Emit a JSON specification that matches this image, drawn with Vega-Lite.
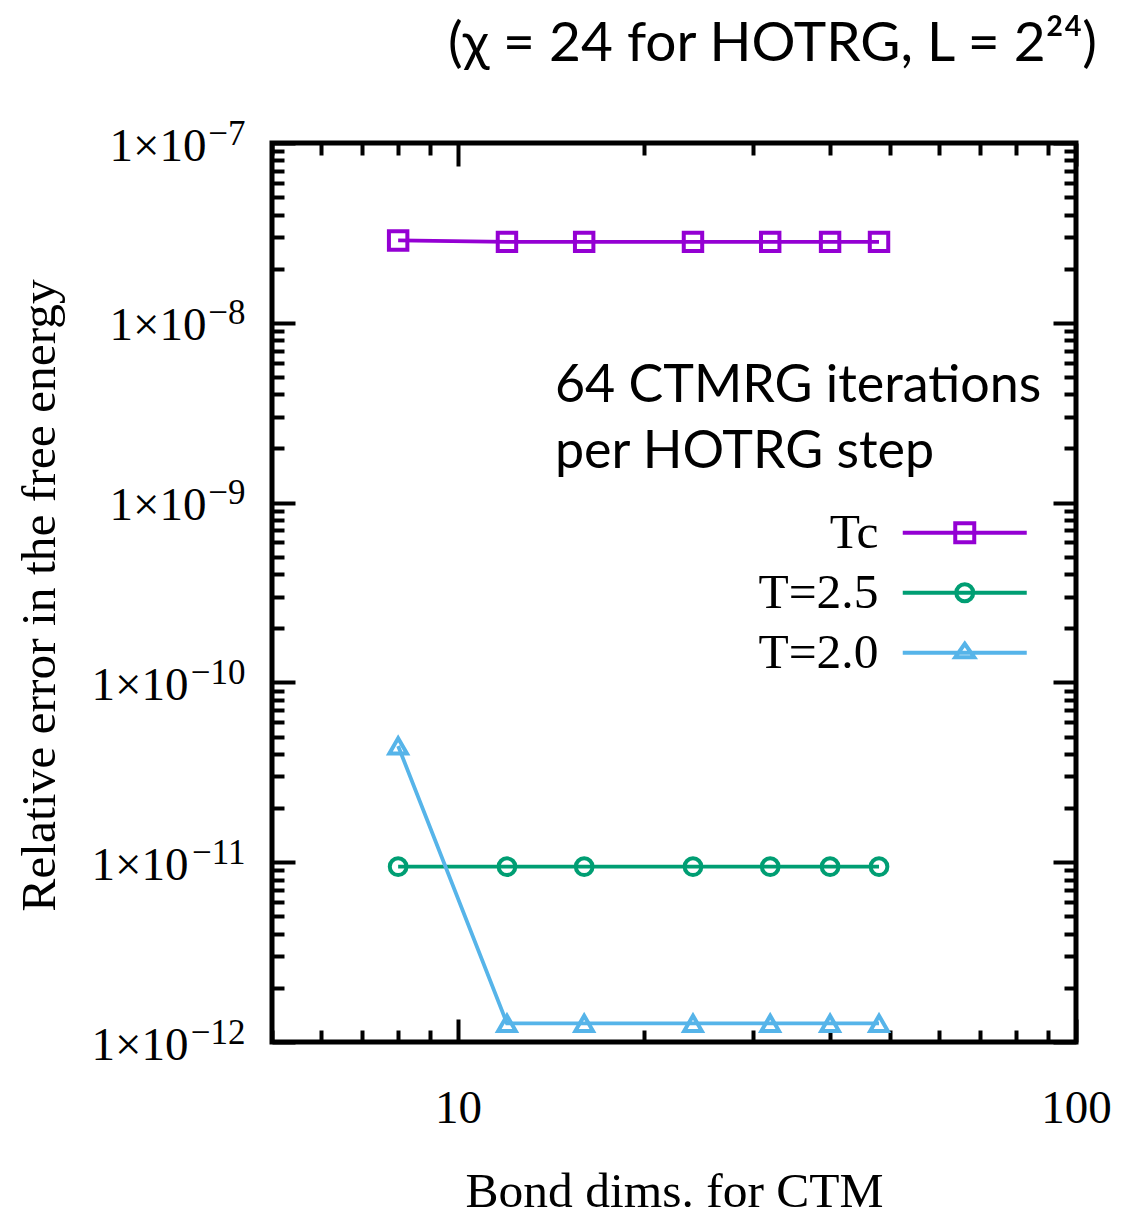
{
  "$schema": "https://vega.github.io/schema/vega-lite/v6.json",
  "width": 804,
  "height": 899,
  "autosize": {"type": "none"},
  "padding": {"left": 272, "top": 143, "right": 46, "bottom": 173},
  "background": "white",
  "title": {
    "text": "(χ = 24 for HOTRG, L = 2²⁴)",
    "anchor": "end",
    "frame": "group",
    "dx": 21,
    "offset": 0,
    "baseline": "alphabetic",
    "font": "Lato",
    "fontSize": 55,
    "fontWeight": "normal",
    "color": "black"
  },
  "data": {
    "values": [
      {"D": 8, "err": 2.87e-8, "series": "Tc"},
      {"D": 12, "err": 2.82e-8, "series": "Tc"},
      {"D": 16, "err": 2.82e-8, "series": "Tc"},
      {"D": 24, "err": 2.82e-8, "series": "Tc"},
      {"D": 32, "err": 2.82e-8, "series": "Tc"},
      {"D": 40, "err": 2.82e-8, "series": "Tc"},
      {"D": 48, "err": 2.82e-8, "series": "Tc"},
      {"D": 8, "err": 9.44e-12, "series": "T=2.5"},
      {"D": 12, "err": 9.44e-12, "series": "T=2.5"},
      {"D": 16, "err": 9.44e-12, "series": "T=2.5"},
      {"D": 24, "err": 9.44e-12, "series": "T=2.5"},
      {"D": 32, "err": 9.44e-12, "series": "T=2.5"},
      {"D": 40, "err": 9.44e-12, "series": "T=2.5"},
      {"D": 48, "err": 9.44e-12, "series": "T=2.5"},
      {"D": 8, "err": 4.43e-11, "series": "T=2.0"},
      {"D": 12, "err": 1.27e-12, "series": "T=2.0"},
      {"D": 16, "err": 1.27e-12, "series": "T=2.0"},
      {"D": 24, "err": 1.27e-12, "series": "T=2.0"},
      {"D": 32, "err": 1.27e-12, "series": "T=2.0"},
      {"D": 40, "err": 1.27e-12, "series": "T=2.0"},
      {"D": 48, "err": 1.27e-12, "series": "T=2.0"}
    ]
  },
  "resolve": {"axis": {"x": "independent", "y": "independent"}},
  "layer": [
    {
      "mark": {"type": "line", "strokeWidth": 3.8},
      "encoding": {
        "x": {
          "field": "D",
          "type": "quantitative",
          "scale": {"type": "log", "domain": [5, 100], "nice": false},
          "axis": {
            "orient": "bottom",
            "title": "Bond dims. for CTM",
            "values": [10, 100],
            "tickSize": -23,
            "labelBaseline": "alphabetic",
            "labelFontSize": 47,
            "labelPadding": 103,
            "titleBaseline": "alphabetic",
            "titleY": 164,
            "titleX": 402
          }
        },
        "y": {
          "field": "err",
          "type": "quantitative",
          "scale": {"type": "log", "domain": [1e-12, 1e-7], "nice": false},
          "axis": {
            "orient": "left",
            "title": "Relative error in the free energy",
            "values": [1e-9, 1e-8, 1e-7],
            "tickSize": -23,
            "labelExpr": "'1×10'",
            "labelBaseline": "middle",
            "labelFontSize": 47,
            "labelPadding": 89,
            "labelOffset": 3,
            "titleAngle": -90,
            "titleBaseline": "alphabetic",
            "titleX": -218,
            "titleY": 452
          }
        },
        "color": {
          "field": "series",
          "type": "nominal",
          "scale": {"domain": ["Tc", "T=2.5", "T=2.0"], "range": ["#9400D3", "#009E73", "#56B4E9"]},
          "legend": {
            "title": null,
            "orient": "none",
            "legendX": 668,
            "legendY": 365,
            "padding": 0,
            "rowPadding": 9,
            "symbolSize": 961,
            "symbolStrokeWidth": 4,
            "symbolOpacity": 1,
            "symbolFillColor": "transparent",
            "labelFont": "Liberation Serif",
            "labelFontSize": 49.5,
            "labelColor": "black",
            "labelAlign": "right",
            "labelOffset": -111
          }
        },
        "order": {"field": "D", "type": "quantitative"}
      }
    },
    {
      "transform": [{"filter": "datum.series === 'Tc'"}],
      "mark": {"type": "point", "shape": "square", "filled": false, "size": 340, "strokeWidth": 4, "opacity": 1},
      "encoding": {
        "x": {
          "field": "D",
          "type": "quantitative",
          "axis": {"orient": "top", "title": null, "labels": false, "values": [10, 100], "tickSize": -23}
        },
        "y": {
          "field": "err",
          "type": "quantitative",
          "axis": {"orient": "right", "title": null, "labels": false, "values": [1e-12, 1e-11, 1e-10, 1e-9, 1e-8, 1e-7], "tickSize": -23}
        },
        "color": {"field": "series", "type": "nominal"}
      }
    },
    {
      "transform": [{"filter": "datum.series === 'T=2.5'"}],
      "mark": {"type": "point", "shape": "circle", "filled": false, "size": 280, "strokeWidth": 4, "opacity": 1},
      "encoding": {
        "x": {
          "field": "D",
          "type": "quantitative",
          "axis": {"orient": "bottom", "title": null, "labels": false, "values": [5, 6, 7, 8, 9, 20, 30, 40, 50, 60, 70, 80, 90], "tickSize": -12}
        },
        "y": {
          "field": "err",
          "type": "quantitative",
          "axis": {
            "orient": "left",
            "title": null,
            "labels": false,
            "tickSize": -12,
            "values": [2e-12, 3e-12, 4e-12, 5e-12, 6e-12, 7e-12, 8e-12, 9e-12, 2e-11, 3e-11, 4e-11, 5e-11, 6e-11, 7e-11, 8e-11, 9e-11, 2e-10, 3e-10, 4e-10, 5e-10, 6e-10, 7e-10, 8e-10, 9e-10, 2e-9, 3e-9, 4e-9, 5e-9, 6e-9, 7e-9, 8e-9, 9e-9, 2e-8, 3e-8, 4e-8, 5e-8, 6e-8, 7e-8, 8e-8, 9e-8]
          }
        },
        "color": {"field": "series", "type": "nominal"}
      }
    },
    {
      "transform": [{"filter": "datum.series === 'T=2.0'"}],
      "mark": {"type": "point", "shape": "triangle-up", "filled": false, "size": 310, "strokeWidth": 4, "opacity": 1},
      "encoding": {
        "x": {
          "field": "D",
          "type": "quantitative",
          "axis": {"orient": "top", "title": null, "labels": false, "values": [5, 6, 7, 8, 9, 20, 30, 40, 50, 60, 70, 80, 90], "tickSize": -12}
        },
        "y": {
          "field": "err",
          "type": "quantitative",
          "axis": {
            "orient": "right",
            "title": null,
            "labels": false,
            "tickSize": -12,
            "values": [2e-12, 3e-12, 4e-12, 5e-12, 6e-12, 7e-12, 8e-12, 9e-12, 2e-11, 3e-11, 4e-11, 5e-11, 6e-11, 7e-11, 8e-11, 9e-11, 2e-10, 3e-10, 4e-10, 5e-10, 6e-10, 7e-10, 8e-10, 9e-10, 2e-9, 3e-9, 4e-9, 5e-9, 6e-9, 7e-9, 8e-9, 9e-9, 2e-8, 3e-8, 4e-8, 5e-8, 6e-8, 7e-8, 8e-8, 9e-8]
          }
        },
        "color": {"field": "series", "type": "nominal"}
      }
    },
    {
      "mark": {"type": "point", "filled": false, "opacity": 0},
      "encoding": {
        "x": {"field": "D", "type": "quantitative", "axis": null},
        "y": {
          "field": "err",
          "type": "quantitative",
          "axis": {
            "orient": "left",
            "title": null,
            "ticks": false,
            "tickSize": 0,
            "values": [1e-12, 1e-11, 1e-10, 1e-9, 1e-8, 1e-7],
            "labelExpr": "'−' + (-round(log(datum.value)/LN10))",
            "labelBaseline": "middle",
            "labelFontSize": 35,
            "labelPadding": 27,
            "labelOffset": -10
          }
        },
        "color": {"field": "series", "type": "nominal"},
        "shape": {
          "field": "series",
          "type": "nominal",
          "scale": {
            "domain": ["Tc", "T=2.5", "T=2.0"],
            "range": [
              "M-4,0H4M-0.613,-0.613H0.613V0.613H-0.613Z",
              "M-4,0H4M0.55,0A0.55,0.55 0 1,1 -0.55,0A0.55,0.55 0 1,1 0.55,0",
              "M-4,0H4M0,-0.58L0.61,0.29H-0.61Z"
            ]
          },
          "legend": {
            "title": null,
            "orient": "none",
            "legendX": 668,
            "legendY": 365,
            "padding": 0,
            "rowPadding": 9,
            "symbolSize": 961,
            "symbolStrokeWidth": 4,
            "symbolOpacity": 1,
            "symbolFillColor": "transparent",
            "labelFont": "Liberation Serif",
            "labelFontSize": 49.5,
            "labelColor": "black",
            "labelAlign": "right",
            "labelOffset": -111
          }
        }
      }
    },
    {
      "data": {"values": [{"note": "64 CTMRG iterations\nper HOTRG step"}]},
      "mark": {
        "type": "text",
        "align": "left",
        "baseline": "alphabetic",
        "lineBreak": "\n",
        "lineHeight": 66,
        "font": "Lato",
        "fontSize": 52,
        "color": "black"
      },
      "encoding": {
        "x": {"datum": 14.35, "type": "quantitative", "axis": null},
        "y": {
          "datum": 3.63e-9,
          "type": "quantitative",
          "axis": {
            "orient": "left",
            "title": null,
            "values": [1e-12, 1e-11, 1e-10],
            "tickSize": -23,
            "labelExpr": "'1×10'",
            "labelBaseline": "middle",
            "labelFontSize": 47,
            "labelPadding": 107,
            "labelOffset": 3
          }
        },
        "text": {"field": "note"}
      }
    }
  ],
  "config": {
    "view": {"stroke": "black", "strokeWidth": 5},
    "axis": {
      "grid": false,
      "domain": false,
      "ticks": true,
      "tickColor": "black",
      "tickWidth": 4,
      "labelFont": "Liberation Serif",
      "labelFontSize": 46,
      "labelColor": "black",
      "labelFlush": false,
      "labelOverlap": false,
      "labelBound": false,
      "titleFont": "Liberation Serif",
      "titleFontSize": 49.5,
      "titleFontWeight": "normal",
      "titleColor": "black"
    }
  }
}
